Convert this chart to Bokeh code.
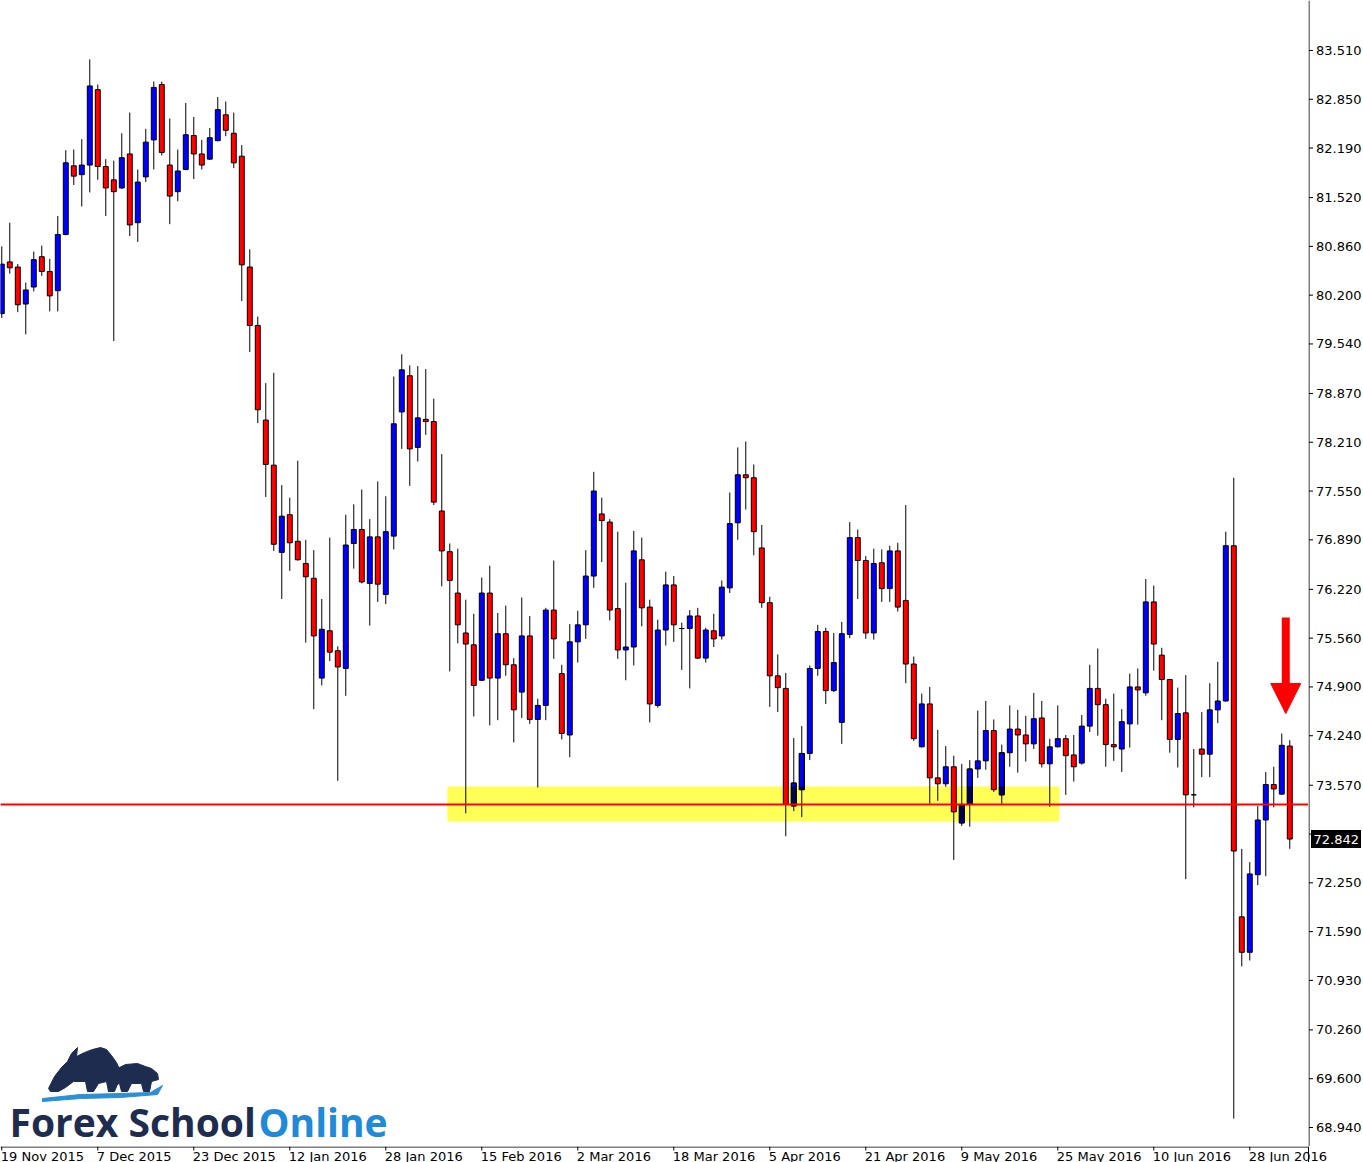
from bokeh.plotting import figure
from bokeh.models import Span, Label, Range1d, Arrow, NormalHead
from bokeh.layouts import row, column
from bokeh.core.properties import value
from bokeh.embed import file_html
from bokeh.resources import INLINE

# ---------------- data (daily bars, 19 Nov 2015 .. 5 Jul 2016) ----------------
opens = [79.95, 80.65, 80.58, 80.08, 80.31, 80.72, 80.52, 80.26, 81.02, 81.95,
         81.83, 81.96, 82.98, 81.94, 81.76, 81.65, 82.11, 81.18, 81.80, 82.30,
         83.05, 81.96, 81.60, 81.90, 82.36, 82.11, 82.04, 82.29, 82.64, 82.39,
         82.08, 80.58, 79.79, 78.51, 77.90, 76.72, 77.23, 76.87, 76.57, 76.37,
         75.02, 75.66, 75.39, 75.15, 76.84, 77.03, 76.30, 76.93, 76.15, 76.94,
         78.62, 79.11, 78.14, 78.52, 78.49, 77.28, 76.73, 76.17, 75.63, 75.47,
         74.99, 76.17, 75.02, 75.62, 75.20, 74.83, 75.59, 74.46, 74.65, 75.94,
         75.08, 74.25, 75.51, 75.74, 76.40, 77.24, 77.13, 75.96, 75.40, 75.44,
         76.62, 75.98, 74.65, 75.67, 76.28, 75.69, 75.69, 75.86, 75.29, 75.66,
         75.59, 76.24, 77.12, 77.77, 77.73, 76.78, 76.04, 75.05, 74.88, 73.29,
         73.51, 74.00, 75.15, 75.65, 74.85, 74.42, 75.61, 76.92, 76.61, 75.63,
         76.58, 76.23, 76.74, 76.07, 75.21, 74.09, 74.67, 73.67, 73.59, 73.82,
         73.06, 73.31, 73.79, 73.90, 74.31, 73.44, 74.01, 74.33, 74.25, 74.13,
         74.48, 73.86, 74.09, 74.20, 73.98, 73.87, 74.37, 74.88, 74.66, 74.12,
         74.06, 74.40, 74.90, 74.82, 76.05, 75.33, 75.00, 74.19, 74.55, 73.44,
         74.06, 73.99, 74.59, 74.71, 76.81, 71.79, 71.31, 72.36, 73.10, 73.58,
         73.45, 74.10]
highs = [80.86, 81.18, 80.62, 80.37, 80.79, 80.87, 80.69, 81.27, 82.16, 82.17,
         82.31, 83.39, 83.05, 82.04, 82.02, 82.39, 82.67, 81.90, 82.45, 83.09,
         83.09, 82.59, 82.17, 82.80, 82.61, 82.30, 82.46, 82.88, 82.82, 82.67,
         82.23, 80.82, 79.91, 79.01, 79.15, 77.63, 77.46, 77.96, 76.89, 76.75,
         76.09, 76.92, 75.45, 77.23, 77.37, 77.57, 77.17, 77.68, 77.48, 79.10,
         79.40, 79.25, 79.24, 79.20, 78.80, 78.05, 76.84, 76.77, 76.08, 75.89,
         76.38, 76.54, 75.90, 76.00, 75.29, 76.11, 75.86, 74.74, 75.97, 76.61,
         75.20, 75.75, 75.93, 76.75, 77.81, 77.46, 77.17, 77.00, 76.31, 77.01,
         76.92, 76.08, 75.81, 76.46, 76.40, 75.77, 75.94, 75.97, 75.70, 75.89,
         76.34, 77.53, 78.14, 78.22, 77.91, 77.09, 76.12, 75.34, 75.09, 74.21,
         74.37, 75.19, 75.74, 75.70, 75.63, 75.78, 77.13, 77.03, 76.67, 76.77,
         76.76, 76.81, 76.85, 77.36, 75.31, 74.81, 74.90, 74.32, 74.10, 73.97,
         73.86, 73.91, 74.58, 74.71, 74.46, 74.12, 74.65, 74.59, 74.51, 74.82,
         74.71, 74.20, 74.65, 74.25, 74.25, 74.52, 75.20, 75.42, 74.74, 74.81,
         74.60, 75.08, 75.15, 76.36, 76.27, 75.43, 75.01, 74.89, 75.06, 74.06,
         74.56, 74.95, 75.24, 77.00, 77.73, 72.71, 72.53, 73.29, 73.75, 73.82,
         74.27, 74.18]
lows = [79.89, 80.49, 79.97, 79.67, 80.25, 80.46, 79.98, 79.98, 81.01, 81.69,
        81.40, 81.59, 81.76, 81.27, 79.58, 81.64, 81.00, 80.92, 81.73, 81.90,
        82.09, 81.16, 81.47, 81.89, 81.77, 81.90, 82.03, 82.28, 82.35, 81.92,
        80.12, 79.43, 78.47, 77.47, 76.74, 76.09, 76.47, 76.61, 75.50, 74.60,
        74.92, 75.25, 73.63, 74.78, 76.50, 76.30, 75.73, 76.05, 76.02, 76.76,
        78.12, 77.62, 77.95, 78.31, 77.36, 76.26, 75.11, 75.49, 73.19, 74.50,
        74.98, 74.38, 74.45, 75.05, 74.15, 74.48, 74.40, 73.54, 74.45, 75.28,
        74.19, 73.95, 75.23, 75.55, 76.24, 76.59, 75.80, 75.28, 74.99, 75.19,
        75.72, 74.42, 74.62, 75.46, 75.51, 75.13, 74.88, 75.28, 75.23, 75.44,
        75.54, 76.17, 76.89, 77.30, 76.68, 75.97, 74.63, 74.56, 72.88, 73.22,
        73.14, 73.91, 75.05, 74.67, 74.83, 74.13, 75.56, 76.09, 75.55, 75.54,
        76.05, 76.05, 75.92, 74.95, 74.17, 74.08, 73.32, 73.36, 73.55, 72.56,
        73.02, 73.01, 73.67, 73.78, 73.48, 73.32, 73.82, 73.74, 73.89, 74.06,
        73.81, 73.28, 74.08, 73.44, 73.62, 73.85, 74.29, 74.24, 73.82, 73.90,
        73.75, 74.08, 74.39, 74.78, 75.12, 74.45, 74.01, 73.81, 72.30, 73.27,
        73.68, 73.68, 74.41, 74.70, 69.06, 71.12, 71.20, 72.22, 72.34, 73.27,
        73.44, 72.71]
closes = [80.62, 80.57, 80.07, 80.27, 80.68, 80.52, 80.19, 81.02, 81.99, 81.81,
          81.96, 83.03, 81.94, 81.65, 81.60, 82.06, 81.15, 81.73, 82.27, 83.01,
          82.13, 81.54, 81.88, 82.37, 82.11, 81.96, 82.33, 82.71, 82.43, 81.99,
          80.61, 79.79, 78.65, 77.91, 76.83, 77.21, 76.85, 76.62, 76.39, 75.59,
          75.68, 75.37, 75.17, 76.82, 77.03, 76.32, 76.93, 76.29, 77.00, 78.46,
          79.19, 78.12, 78.54, 78.49, 77.40, 76.74, 76.34, 75.74, 75.48, 74.92,
          76.17, 75.02, 75.62, 75.20, 74.59, 75.59, 74.46, 74.65, 75.94, 75.55,
          74.27, 75.51, 75.74, 76.40, 77.55, 77.15, 75.94, 75.40, 75.44, 76.74,
          75.97, 74.67, 75.67, 76.28, 75.74, 75.69, 75.86, 75.29, 75.67, 75.55,
          76.25, 77.11, 77.77, 77.73, 77.00, 76.04, 75.05, 74.89, 73.31, 73.60,
          74.00, 75.15, 75.65, 74.85, 75.23, 75.62, 76.92, 76.61, 75.63, 76.57,
          76.23, 76.74, 75.98, 75.21, 74.20, 74.67, 73.67, 73.59, 73.82, 73.21,
          73.31, 73.79, 73.90, 74.31, 73.51, 74.01, 74.33, 74.25, 74.13, 74.47,
          73.86, 74.09, 74.20, 73.97, 73.82, 74.37, 74.88, 74.66, 74.12, 74.09,
          74.43, 74.90, 74.86, 76.05, 75.48, 75.00, 74.19, 74.54, 73.44, 73.44,
          73.99, 74.59, 74.71, 76.81, 72.68, 71.31, 72.37, 73.10, 73.58, 73.52,
          74.11, 72.842]

date_labels = ["19 Nov 2015", "7 Dec 2015", "23 Dec 2015", "12 Jan 2016",
               "28 Jan 2016", "15 Feb 2016", "2 Mar 2016", "18 Mar 2016",
               "5 Apr 2016", "21 Apr 2016", "9 May 2016", "25 May 2016",
               "10 Jun 2016", "28 Jun 2016"]
date_label_bars = [0, 12, 24, 36, 48, 60, 72, 84, 96, 108, 120, 132, 144, 156]
price_ticks = [83.51, 82.85, 82.19, 81.52, 80.86, 80.20, 79.54, 78.87, 78.21,
               77.55, 76.89, 76.22, 75.56, 74.90, 74.24, 73.57, 72.91, 72.25,
               71.59, 70.93, 70.26, 69.60, 68.94]

zone_first_bar, zone_last_bar = 55.7, 132.2
zone_low, zone_high = 73.08, 73.553
support_level = 73.31
last_price = 72.842
arrow_bar, arrow_top, arrow_tip = 160.5, 75.84, 74.54

# ---------------- derived ----------------
n = len(opens)
bars = list(range(n))
up = [c >= o for o, c in zip(opens, closes)]
body_top = [max(o, c) for o, c in zip(opens, closes)]
body_bot = [min(o, c) for o, c in zip(opens, closes)]
body_col = ["#0000ff" if u else "#ff0000" for u in up]

X0, X1 = -0.16, 163.34
Y0, Y1 = 68.683, 84.186
MAIN_W, MAIN_H, AX_W, DT_H = 1308, 1146, 55, 16
XR = Range1d(X0, X1)
YR = Range1d(Y0, Y1)
FONT = "DejaVu Sans"
px_per_bar = MAIN_W / (X1 - X0)


def bare(fig):
    fig.background_fill_color = "white"
    fig.border_fill_color = "white"
    fig.outline_line_color = None
    fig.xgrid.visible = False
    fig.ygrid.visible = False
    fig.min_border_left = 0
    fig.min_border_right = 0
    fig.min_border_top = 0
    fig.min_border_bottom = 0
    return fig


# ---------------- main chart ----------------
p = bare(figure(width=MAIN_W, height=MAIN_H, x_range=XR, y_range=YR,
                x_axis_location=None, y_axis_location=None,
                output_backend="svg", toolbar_location=None))

p.quad(left=[zone_first_bar], right=[zone_last_bar], bottom=[zone_low],
       top=[zone_high], fill_color="#ffff55", line_color=None)

p.segment(x0=bars, y0=lows, x1=bars, y1=highs, line_color="black", line_width=1)
bw = 0.62
p.vbar(x=bars, width=bw, top=body_top, bottom=body_bot, fill_color=body_col,
       line_color="black", line_width=1)

# blue bodies seen through the yellow zone look navy
nx, nt, nb = [], [], []
for i in bars:
    if up[i] and zone_first_bar <= i <= zone_last_bar:
        lo = max(body_bot[i], zone_low)
        hi = min(body_top[i], zone_high)
        if hi > lo:
            nx.append(i); nt.append(hi); nb.append(lo)
p.vbar(x=nx, width=bw, top=nt, bottom=nb, fill_color="#000055", line_color=None)
p.vbar(x=nx, width=bw, top=[body_top[i] for i in nx],
       bottom=[body_bot[i] for i in nx], fill_alpha=0, line_color="black",
       line_width=1)

p.add_layout(Span(location=support_level, dimension="width",
                  line_color="#ff0000", line_width=2))

p.add_layout(Arrow(x_start=arrow_bar, y_start=arrow_top, x_end=arrow_bar,
                   y_end=arrow_tip, line_color="#ff0000", line_width=8,
                   end=NormalHead(size=30, fill_color="#ff0000",
                                  line_color="#ff0000")))

# ---------------- logo (decoration, drawn in pixel space of the frame) ----------------
def to_data(pts):
    xs = [X0 + px / px_per_bar for px, _ in pts]
    ys = [Y1 - py * (Y1 - Y0) / MAIN_H for _, py in pts]
    return xs, ys


bull = [(48, 1088), (54, 1076), (61, 1067), (67, 1061), (71, 1053), (77, 1047),
        (76, 1056), (84, 1052), (92, 1049), (100, 1047), (106, 1049), (111, 1055),
        (116, 1062), (120, 1071), (118, 1081), (114, 1091), (108, 1091),
        (106, 1081), (98, 1083), (93, 1091), (87, 1091), (85, 1081), (73, 1081),
        (65, 1087), (58, 1091), (50, 1091)]
bear = [(108, 1091), (109, 1077), (115, 1069), (125, 1064), (137, 1063),
        (145, 1066), (151, 1068), (157, 1073), (158, 1079), (151, 1081),
        (149, 1091), (143, 1091), (141, 1083), (131, 1083), (127, 1091),
        (121, 1091), (119, 1083), (113, 1085), (112, 1091)]
swoosh = [(42, 1098), (80, 1094), (120, 1093), (150, 1092), (162, 1085),
          (157, 1094), (120, 1097), (80, 1098), (42, 1101)]
for shape, col in ((swoosh, "#2b8fd6"), (bull, "#1e2d4f"), (bear, "#1e2d4f")):
    sx, sy = to_data(shape)
    p.patch(sx, sy, fill_color=col, line_color=col, line_width=1)

p.add_layout(Label(x=9, y=25, x_units="screen", y_units="screen",
                   text="Forex School", text_font="Open Sans",
                   text_font_size="39px", text_font_style="bold",
                   text_color="#1e2d4f", text_baseline="middle"))
p.add_layout(Label(x=258, y=25, x_units="screen", y_units="screen",
                   text="Online", text_font="Open Sans",
                   text_font_size="39px", text_font_style="bold",
                   text_color="#1f8ad8", text_baseline="middle"))

# ---------------- right price scale ----------------
ax = bare(figure(width=AX_W, height=MAIN_H, x_range=Range1d(-0.5, AX_W - 0.5),
                 y_range=YR, x_axis_location=None, y_axis_location=None,
                 output_backend="svg", toolbar_location=None))
ax.add_layout(Span(location=0, dimension="height", line_color="black",
                   line_width=1))
nt_ = len(price_ticks)
ax.segment(x0=[0] * nt_, y0=price_ticks, x1=[4] * nt_, y1=price_ticks,
           line_color="black", line_width=1)
ax.text(x=[7] * nt_, y=price_ticks, text=[f"{t:.3f}" for t in price_ticks],
        text_baseline="middle", text_align="left", text_font=value(FONT),
        text_font_size="13px", text_color="black")
ax.rect(x=[27], y=[last_price], width=[50], height=[18], width_units="screen",
        height_units="screen", fill_color="black", line_color=None)
ax.text(x=[4.5], y=[last_price], text=[f"{last_price:.3f}"],
        text_baseline="middle", text_align="left", text_font=value(FONT),
        text_font_size="13px", text_color="white")

# ---------------- bottom time scale (full width, same bar spacing) ----------------
DT_W = MAIN_W + AX_W
dt = bare(figure(width=DT_W, height=DT_H,
                 x_range=Range1d(X0, X0 + DT_W / px_per_bar),
                 y_range=Range1d(-DT_H, 0),
                 x_axis_location=None, y_axis_location=None,
                 output_backend="svg", toolbar_location=None))
dt.segment(x0=[X0], y0=[-0.5], x1=[X1], y1=[-0.5], line_color="black",
           line_width=1)
dt.segment(x0=[X1], y0=[0], x1=[X1], y1=[-DT_H], line_color="black",
           line_width=1)
nd = len(date_label_bars)
dt.segment(x0=date_label_bars, y0=[0] * nd, x1=date_label_bars, y1=[-4] * nd,
           line_color="black", line_width=1)
dt.text(x=date_label_bars, y=[-2] * nd, text=date_labels, x_offset=-1,
        text_align="left", text_baseline="top", text_font=value(FONT),
        text_font_size="13px", text_color="black")

layout = column(row(p, ax, spacing=0), dt, spacing=0)

open("out.html", "w").write(file_html(layout, INLINE))
